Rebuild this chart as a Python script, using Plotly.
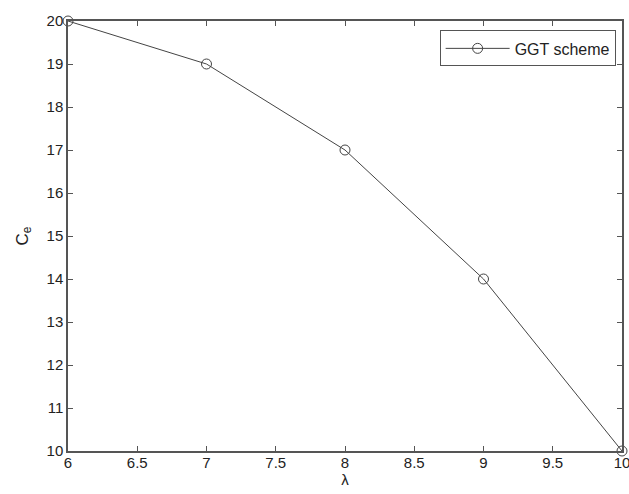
import plotly.graph_objects as go

lam = [6, 7, 8, 9, 10]
ce = [20, 19, 17, 14, 10]
x_ticks = [6, 6.5, 7, 7.5, 8, 8.5, 9, 9.5, 10]
y_ticks = list(range(10, 21))

axis_color = "#555555"
font_family = "Liberation Sans, Arial"
fig = go.Figure()
fig.add_trace(go.Scatter(
    x=lam, y=ce, mode="lines+markers", name="GGT scheme",
    line=dict(color="#444444", width=1),
    marker=dict(symbol="circle-open", size=10, color="#444444", line=dict(width=1)),
    cliponaxis=False,
))
common = dict(showgrid=False, zeroline=False, showline=True, linecolor=axis_color, linewidth=1.5,
              mirror="ticks", ticks="inside", ticklen=5, tickcolor=axis_color, automargin=False,
              ticklabeloverflow="allow",
              tickfont=dict(family=font_family, size=15, color="#222222"))
fig.update_xaxes(range=[6, 10], tickvals=x_ticks, ticktext=[f"{v:g}" for v in x_ticks],
                 ticklabelstandoff=-3,
                 title=dict(text="λ", font=dict(family=font_family, size=15, color="#222222"), standoff=2),
                 **common)
fig.update_yaxes(range=[10, 20], tickvals=y_ticks,
                 title=dict(text="C<sub>e</sub>", font=dict(family=font_family, size=17, color="#222222"), standoff=14),
                 **common)
fig.update_layout(
    width=629, height=494,
    margin=dict(l=68, r=7, t=21, b=43, autoexpand=False),
    plot_bgcolor="white", paper_bgcolor="white",
    showlegend=True,
    legend=dict(x=0.9885, y=0.978, xanchor="right", yanchor="top", itemwidth=64,
                bordercolor=axis_color, borderwidth=1, bgcolor="white",
                font=dict(family=font_family, size=16, color="#222222")),
)
fig.write_html("out.html", config={"displayModeBar": False},
               post_script="document.body.style.margin='0';document.body.style.overflow='hidden';")
